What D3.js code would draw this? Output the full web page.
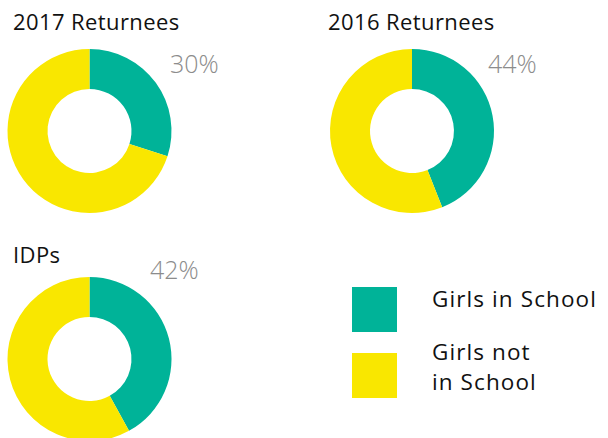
<!DOCTYPE html>
<html><head><meta charset="utf-8">
<script src="https://cdn.jsdelivr.net/npm/d3@7"></script>
<style>body{margin:0;background:#fff;} svg{display:block;}</style>
</head><body>
<svg id="c" width="608" height="438"></svg>
<script>
const groups = ["2017 Returnees", "2016 Returnees", "IDPs"];
const inSchool = [30, 44, 42];
const categories = ["Girls in School", "Girls not in School"];
const legendLines = [["Girls in School"], ["Girls not", "in School"]];
const colors = ["#00b398", "#f9e700"];

const svg = d3.select("#c");
const font = "'Open Sans', Lato, sans-serif";
const layout = [
  {cx: 89.5, cy: 131, tx: 13, ty: 30, lx: 170, ly: 73},
  {cx: 412, cy: 131, tx: 328, ty: 30, lx: 488, ly: 73},
  {cx: 89.5, cy: 359, tx: 13, ty: 263, lx: 150, ly: 279}
];
const outerR = 82, innerR = 42;
const pie = d3.pie().sort(null).value(d => d);
const arc = d3.arc().innerRadius(innerR).outerRadius(outerR);
const color = d3.scaleOrdinal().domain(categories).range(colors);

groups.forEach((g, i) => {
  const L = layout[i];
  const vals = [inSchool[i], 100 - inSchool[i]];
  const gg = svg.append("g").attr("transform", `translate(${L.cx},${L.cy})`);
  gg.selectAll("path").data(pie(vals)).join("path")
    .attr("d", arc).attr("fill", (d, j) => color(categories[j]));
  svg.append("text").attr("x", L.tx).attr("y", L.ty)
    .attr("font-family", font).attr("font-size", 22).attr("letter-spacing", 0.4).attr("fill", "#111")
    .text(g);
  svg.append("text").attr("x", L.lx).attr("y", L.ly)
    .attr("font-family", font).attr("font-size", 25).attr("font-weight", 300).attr("fill", "#8c8c8c")
    .text(inSchool[i] + "%");
});

const leg = svg.append("g");
const legY = [287, 353];
categories.forEach((c, i) => {
  leg.append("rect").attr("x", 352).attr("y", legY[i]).attr("width", 45).attr("height", 45)
    .attr("fill", color(c));
  const t = leg.append("text").attr("font-family", font).attr("font-size", 22.5)
    .attr("letter-spacing", 1.1).attr("fill", "#111");
  legendLines[i].forEach((line, k) => {
    t.append("tspan").attr("x", 432).attr("y", (i === 0 ? 307 : 360) + k * 30).text(line);
  });
});
</script>
</body></html>
